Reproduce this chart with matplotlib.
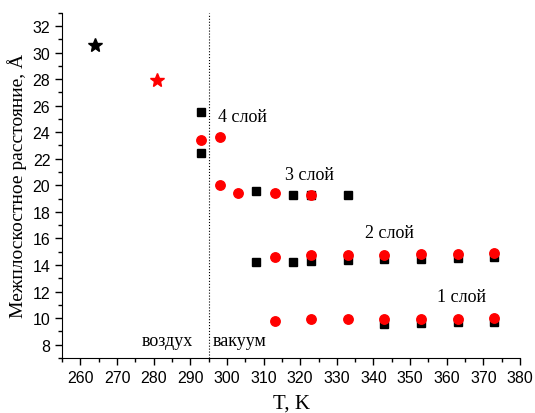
import matplotlib
matplotlib.use("Agg")
import matplotlib.pyplot as plt
from matplotlib.ticker import MultipleLocator

# black squares
t_black = [293, 293, 308, 318, 323, 333,
           308, 318, 323, 333, 343, 353, 363, 373,
           343, 353, 363, 373]
d_black = [25.55, 22.4, 19.6, 19.25, 19.25, 19.25,
           14.25, 14.23, 14.28, 14.38, 14.43, 14.48, 14.53, 14.63,
           9.56, 9.65, 9.7, 9.73]

# red circles
t_red = [293, 298, 298, 303, 313, 323,
         313, 323, 333, 343, 353, 363, 373,
         313, 323, 333, 343, 353, 363, 373]
d_red = [23.4, 23.6, 20.05, 19.45, 19.4, 19.3,
         14.6, 14.73, 14.78, 14.78, 14.85, 14.85, 14.9,
         9.79, 9.91, 9.9, 9.9, 9.9, 9.96, 9.98]

# stars
star_t = [264, 281]
star_d = [30.6, 27.9]
star_colors = ["black", "red"]

layer_labels = ["4 слой", "3 слой", "2 слой", "1 слой"]
layer_pos = [(297.6, 25.2), (315.9, 20.85), (337.7, 16.45), (357.3, 11.65)]

T_boundary = 295

fig = plt.figure(figsize=(5.35, 4.14), dpi=100)
ax = fig.add_axes([0.116, 0.133, 0.856, 0.834])

ax.plot(t_black, d_black, "s", color="black", markersize=5.5, linestyle="none")
ax.plot(t_red, d_red, "o", color="red", markersize=6.8, linestyle="none")
for t, d, c in zip(star_t, star_d, star_colors):
    ax.plot(t, d, "*", color=c, markersize=10)

ax.axvline(T_boundary, color="black", linestyle=":", linewidth=0.8)

serif = "Liberation Serif"
for lab, (x, y) in zip(layer_labels, layer_pos):
    ax.text(x, y, lab, family=serif, fontsize=13, va="center", ha="left")
ax.text(276.8, 8.3, "воздух", family=serif, fontsize=13, va="center", ha="left")
ax.text(296.1, 8.3, "вакуум", family=serif, fontsize=13, va="center", ha="left")

ax.set_xlim(255, 380)
ax.set_ylim(7, 33)
ax.xaxis.set_major_locator(MultipleLocator(10))
ax.xaxis.set_minor_locator(MultipleLocator(5))
ax.yaxis.set_major_locator(MultipleLocator(2))
ax.yaxis.set_minor_locator(MultipleLocator(1))
ax.tick_params(which="major", direction="out", length=5, width=1, labelsize=11.5)
ax.tick_params(which="minor", direction="out", length=3, width=1)
for lbl in ax.get_xticklabels() + ax.get_yticklabels():
    lbl.set_family("Liberation Sans")

ax.spines["top"].set_visible(False)
ax.spines["right"].set_visible(False)

ax.set_xlabel("T, K", family=serif, fontsize=15, labelpad=6)
ax.set_ylabel("Межплоскостное расстояние, Å", family=serif, fontsize=14)

fig.savefig("out.png", dpi=100)
